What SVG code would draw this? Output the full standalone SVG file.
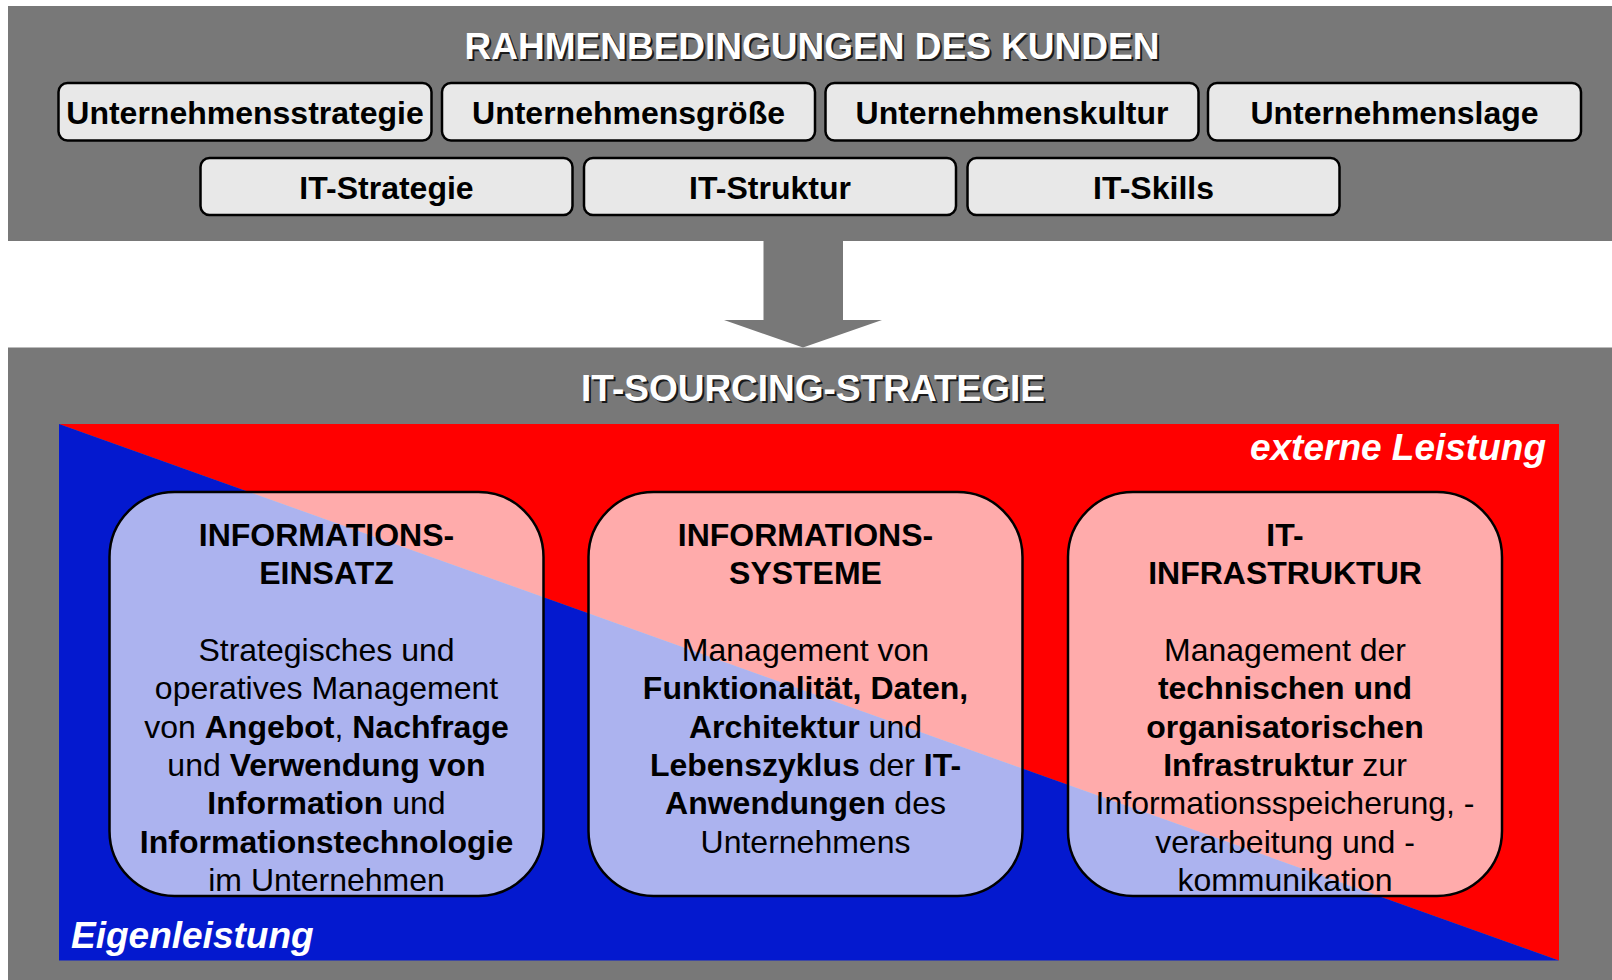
<svg xmlns="http://www.w3.org/2000/svg" width="1612" height="980" viewBox="0 0 1612 980">
<style>
  text { font-family: "Liberation Sans", Arial, sans-serif; }
  .band { fill: #787878; }
  .title { font-size: 37px; font-weight: bold; text-anchor: middle; }
  .tw { fill: #ffffff; }
  .ts { fill: #1a1a1a; }
  .chip { fill: #e8e8e8; stroke: #000; stroke-width: 2.5; }
  .chipt { font-size: 32px; font-weight: bold; fill: #000; text-anchor: middle; }
  .card { fill: #ffffff; fill-opacity: 0.67; stroke: #000; stroke-width: 2.5; }
  .ct { font-size: 32px; fill: #000; text-anchor: middle; }
  .b { font-weight: bold; }
  .lab { font-size: 37px; font-weight: bold; font-style: italic; fill: #fff; }
</style>

<!-- top band -->
<rect class="band" x="8" y="6" width="1604" height="235"/>
<g id="title-top">
  <text class="title ts" x="814" y="61">RAHMENBEDINGUNGEN DES KUNDEN</text>
  <text class="title tw" x="812" y="59">RAHMENBEDINGUNGEN DES KUNDEN</text>
</g>

<g id="n-unternehmensstrategie">
  <rect class="chip" x="58.5" y="83" width="373" height="57.5" rx="9"/>
  <text class="chipt" x="245" y="123.5">Unternehmensstrategie</text>
</g>
<g id="n-unternehmensgroesse">
  <rect class="chip" x="442" y="83" width="373" height="57.5" rx="9"/>
  <text class="chipt" x="628.5" y="123.5">Unternehmensgröße</text>
</g>
<g id="n-unternehmenskultur">
  <rect class="chip" x="825.5" y="83" width="373" height="57.5" rx="9"/>
  <text class="chipt" x="1012" y="123.5">Unternehmenskultur</text>
</g>
<g id="n-unternehmenslage">
  <rect class="chip" x="1208" y="83" width="373" height="57.5" rx="9"/>
  <text class="chipt" x="1394.5" y="123.5">Unternehmenslage</text>
</g>
<g id="n-it-strategie">
  <rect class="chip" x="200.5" y="158" width="372" height="57" rx="9"/>
  <text class="chipt" x="386.5" y="198.5">IT-Strategie</text>
</g>
<g id="n-it-struktur">
  <rect class="chip" x="584" y="158" width="372" height="57" rx="9"/>
  <text class="chipt" x="770" y="198.5">IT-Struktur</text>
</g>
<g id="n-it-skills">
  <rect class="chip" x="967.5" y="158" width="372" height="57" rx="9"/>
  <text class="chipt" x="1153.5" y="198.5">IT-Skills</text>
</g>

<!-- connector: block arrow -->
<g id="connectors">
  <polygon class="band" points="763.5,240 843,240 843,320 882,320 803,347.5 724,320 763.5,320"/>
</g>

<!-- bottom band -->
<rect class="band" x="8" y="347.5" width="1604" height="632.5"/>
<g id="title-bottom">
  <text class="title ts" x="815" y="403">IT-SOURCING-STRATEGIE</text>
  <text class="title tw" x="813" y="401">IT-SOURCING-STRATEGIE</text>
</g>

<g id="split-area">
  <polygon points="59,424 1559,424 1559,960.5" fill="#ff0000"/>
  <polygon points="59,424 1559,960.5 59,960.5" fill="#0419cf"/>
  <text class="lab" x="1546" y="460" text-anchor="end">externe Leistung</text>
  <text class="lab" x="71" y="948">Eigenleistung</text>
</g>

<g id="n-informationseinsatz">
  <rect class="card" x="109.5" y="492" width="434" height="404" rx="65"/>
  <text class="ct b" x="326.5" y="546">INFORMATIONS-</text>
  <text class="ct b" x="326.5" y="584.3">EINSATZ</text>
  <text class="ct" x="326.5" y="661">Strategisches und</text>
  <text class="ct" x="326.5" y="699.4">operatives Management</text>
  <text class="ct" x="326.5" y="737.7">von <tspan class="b">Angebot</tspan>, <tspan class="b">Nachfrage</tspan></text>
  <text class="ct" x="326.5" y="776">und <tspan class="b">Verwendung von</tspan></text>
  <text class="ct" x="326.5" y="814.4"><tspan class="b">Information</tspan> und</text>
  <text class="ct b" x="326.5" y="852.7">Informationstechnologie</text>
  <text class="ct" x="326.5" y="891">im Unternehmen</text>
</g>

<g id="n-informationssysteme">
  <rect class="card" x="588.5" y="492" width="434" height="404" rx="65"/>
  <text class="ct b" x="805.5" y="546">INFORMATIONS-</text>
  <text class="ct b" x="805.5" y="584.3">SYSTEME</text>
  <text class="ct" x="805.5" y="661">Management von</text>
  <text class="ct b" x="805.5" y="699.4">Funktionalität, Daten,</text>
  <text class="ct" x="805.5" y="737.7"><tspan class="b">Architektur</tspan> und</text>
  <text class="ct" x="805.5" y="776"><tspan class="b">Lebenszyklus</tspan> der <tspan class="b">IT-</tspan></text>
  <text class="ct" x="805.5" y="814.4"><tspan class="b">Anwendungen</tspan> des</text>
  <text class="ct" x="805.5" y="852.7">Unternehmens</text>
</g>

<g id="n-it-infrastruktur">
  <rect class="card" x="1068" y="492" width="434" height="404" rx="65"/>
  <text class="ct b" x="1285" y="546">IT-</text>
  <text class="ct b" x="1285" y="584.3">INFRASTRUKTUR</text>
  <text class="ct" x="1285" y="661">Management der</text>
  <text class="ct b" x="1285" y="699.4">technischen und</text>
  <text class="ct b" x="1285" y="737.7">organisatorischen</text>
  <text class="ct" x="1285" y="776"><tspan class="b">Infrastruktur</tspan> zur</text>
  <text class="ct" x="1285" y="814.4">Informationsspeicherung, -</text>
  <text class="ct" x="1285" y="852.7">verarbeitung und -</text>
  <text class="ct" x="1285" y="891">kommunikation</text>
</g>
</svg>
